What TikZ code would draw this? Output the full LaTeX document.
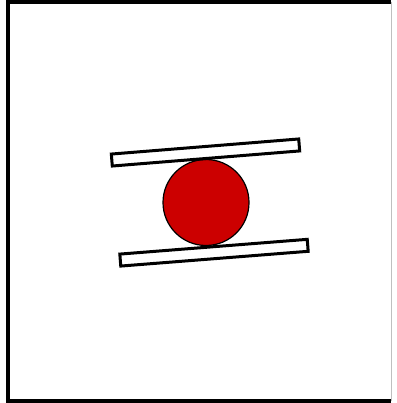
\documentclass[tikz,border=0pt]{standalone}
\usepackage{tikz}
\usetikzlibrary{positioning}

\definecolor{ballred}{HTML}{CC0000}

\tikzset{
  plate/.style={draw, line width=3pt, fill=white, minimum width=188pt, minimum height=12pt, inner sep=0pt},
  ball/.style={circle, draw, line width=1.2pt, fill=ballred, minimum size=86pt, inner sep=0pt}
}

\begin{document}
\begin{tikzpicture}[x=1pt,y=-1pt]

\useasboundingbox (0,0) rectangle (396,403);

% Frame
\coordinate (f1) at (8,2);
\coordinate (f2) at (391,2);
\coordinate (f3) at (391,401);
\coordinate (f4) at (8,401);
\draw[line width=4pt] (f2) -- (f1) -- (f4) -- (f3);
\draw[line width=1pt, black!25] (f2) -- (f3);

% Ball
\node[ball] (b) at (206,202.5) {};

% Plates
\node[plate, rotate=4.6] (p1) at (205.5,152.5) {};
\node[plate, rotate=4.5] (p2) at (214,252.7) {};

\end{tikzpicture}
\end{document}
